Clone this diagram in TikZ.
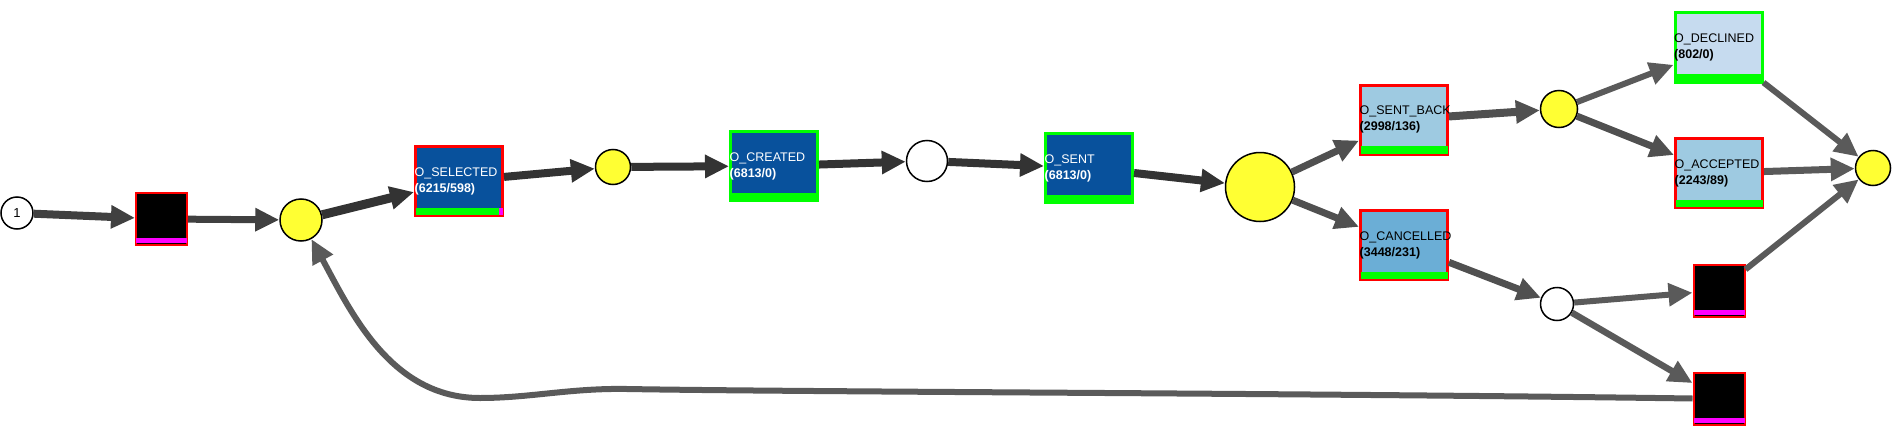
\documentclass[tikz,border=0pt]{standalone}
\usepackage{fontspec}
\setmainfont{Liberation Sans}
\usetikzlibrary{arrows.meta,calc}
\definecolor{dblue}{HTML}{08519C}
\definecolor{lblue}{HTML}{9ECAE1}
\definecolor{mblue}{HTML}{6BAED6}
\definecolor{pblue}{HTML}{C6DBEF}
\definecolor{pyellow}{HTML}{FFFF33}
\definecolor{pgreen}{HTML}{00FF00}
\definecolor{pred}{HTML}{FF0000}
\definecolor{pmag}{HTML}{FF00FF}
\definecolor{edgeA}{HTML}{404040}
\definecolor{edgeB}{HTML}{333333}
\definecolor{edgeC}{HTML}{505050}
\definecolor{edgeD}{HTML}{5A5A5A}
\newcommand\tbdecor[4]{%
  \fill[pgreen] ($(#1.south west)+(1.5pt,1.9pt)$) rectangle ($(#1.south east)+(-1.5pt,9.2pt)$);
  \begin{scope}
    \clip ($(#1.south west)+(-1.5pt,-1.5pt)$) rectangle ($(#1.north east)+(1.5pt,1.5pt)$);
    \node[lbl, text=#2] (#1-a) at ($(#1.north west)+(0.5pt,-31.2pt)$) {#3};
    \node[lbl, text=#2, font=\boxfont\bfseries] (#1-b) at ($(#1.north west)+(0.5pt,-47.2pt)$) {#4};
  \end{scope}}
\newcommand\boxfont{\fontsize{12.5}{15}\selectfont}
\newcommand\bkdecor[1]{%
  \fill[pmag] ($(#1.south west)+(1pt,3pt)$) rectangle ($(#1.south east)+(-1pt,8pt)$);}
\begin{document}
\begin{tikzpicture}[x=1pt,y=-1pt,
  place/.style={circle, draw=black, line width=1.5pt, inner sep=0pt},
  yplace/.style={place, fill=pyellow},
  wplace/.style={place, fill=white},
  tbox/.style={rectangle, line width=3pt, minimum width=87pt, minimum height=69pt, inner sep=0pt},
  bbox/.style={rectangle, draw=pred, fill=black, line width=2pt, minimum width=51pt, minimum height=52pt, inner sep=0pt},
  lbl/.style={anchor=base west, inner sep=0pt, font=\boxfont},
  arc/.style={-{Triangle[length=24pt,width=22pt]}},
  eA/.style={arc, draw=edgeA, line width=8pt},
  eB/.style={arc, draw=edgeB, line width=8pt},
  eC/.style={arc, draw=edgeC, line width=7pt},
  eD/.style={arc, draw=edgeD, line width=6.5pt},
]
\useasboundingbox (0,0) rectangle (1897,436);

% places
\node[wplace, minimum size=32pt, font=\fontsize{13}{15}\selectfont] (s1) at (17,213) {1};
\node[yplace, minimum size=42pt] (y1) at (301,220) {};
\node[yplace, minimum size=35pt] (y2) at (613,167) {};
\node[wplace, minimum size=41pt] (w1) at (927,161) {};
\node[yplace, minimum size=69pt] (y3) at (1260,187) {};
\node[yplace, minimum size=37pt] (y4) at (1559,109) {};
\node[wplace, minimum size=33pt] (w2) at (1557,304) {};
\node[yplace, minimum size=35pt] (fin) at (1873,168) {};

% black transitions
\node[bbox] (b1) at (161.5,219) {};
\node[bbox] (b2) at (1719,290.5) {};
\node[bbox] (b3) at (1719,398.5) {};
\bkdecor{b1}
\bkdecor{b2}
\bkdecor{b3}

% labelled transitions
\node[tbox, draw=pred, fill=dblue] (sel) at (459,181) {};
\tbdecor{sel}{white}{O\_SELECTED}{(6215/598)}
\fill[pmag] ($(sel.south east)+(-5pt,1.9pt)$) rectangle ($(sel.south east)+(-1.5pt,9.2pt)$);
\node[tbox, draw=pgreen, fill=dblue] (cre) at (774,166) {};
\tbdecor{cre}{white}{O\_CREATED}{(6813/0)}
\node[tbox, draw=pgreen, fill=dblue] (sent) at (1089,168) {};
\tbdecor{sent}{white}{O\_SENT}{(6813/0)}
\node[tbox, draw=pred, fill=lblue] (sb) at (1404,119.5) {};
\tbdecor{sb}{black}{O\_SENT\_BACK}{(2998/136)}
\node[tbox, draw=pred, fill=mblue] (can) at (1404,245) {};
\tbdecor{can}{black}{O\_CANCELLED}{(3448/231)}
\node[tbox, draw=pgreen, fill=pblue] (dec) at (1718.5,47.5) {};
\tbdecor{dec}{black}{O\_DECLINED}{(802/0)}
\node[tbox, draw=pred, fill=lblue] (acc) at (1719,173) {};
\tbdecor{acc}{black}{O\_ACCEPTED}{(2243/89)}

% arcs
\draw[eA] (s1) -- (b1);
\draw[eA, line width=7pt] (b1) -- (y1);
\draw[eB, line width=9pt] (y1) -- (sel);
\draw[eB] (sel) -- (y2);
\draw[eB] (y2) -- (cre);
\draw[eB] (cre) -- (w1);
\draw[eB] (w1) -- (sent);
\draw[eB] (sent) -- (y3);
\draw[eC] (y3) -- (sb);
\draw[eC] (y3) -- (can);
\draw[eC, line width=8pt] (sb) -- (y4);
\draw[eD, line width=6pt] (y4) -- (dec);
\draw[eC] (y4) -- (acc);
\draw[eD, line width=6pt] (dec) -- (fin);
\draw[eD, line width=7pt] (acc) -- (fin);
\draw[eD, line width=6pt] (b2) -- (fin);
\draw[eC] (can) -- (w2);
\draw[eD, line width=6pt] (w2) -- (b2);
\draw[eD] (w2) -- (b3);
\draw[eD, line width=6pt] (b3.west) .. controls (1300,393) and (800,392) .. (627,389)
   .. controls (570,388) and (530,398) .. (480,398)
   .. controls (390,398) and (350,310) .. (y1);
\end{tikzpicture}
\end{document}
